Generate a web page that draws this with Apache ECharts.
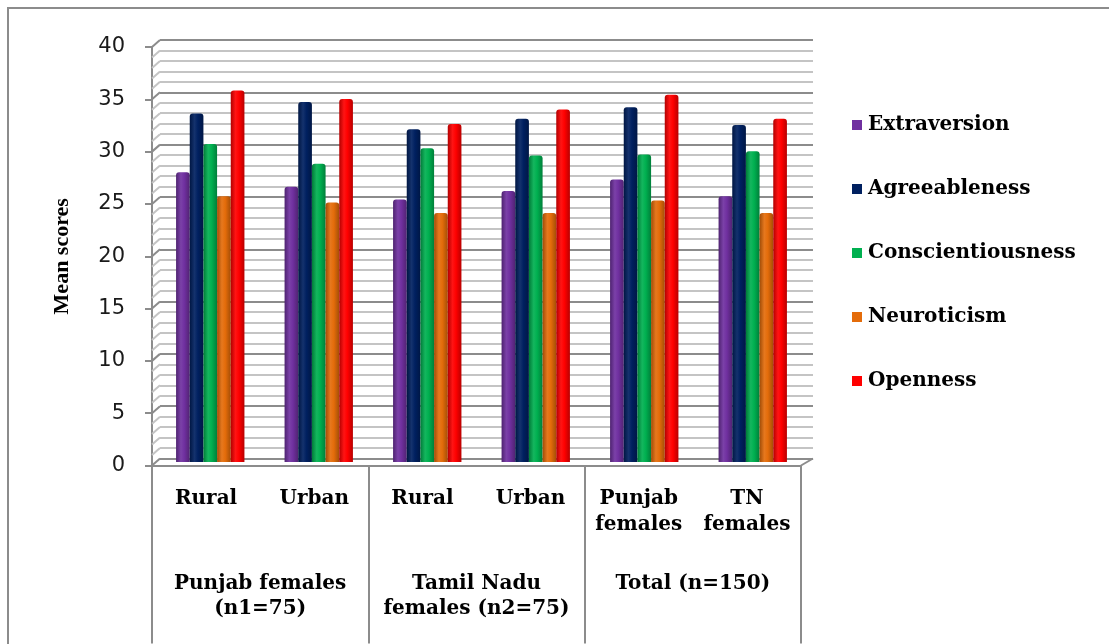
<!DOCTYPE html>
<html>
<head>
<meta charset="utf-8">
<script src="https://cdn.jsdelivr.net/npm/echarts@6/dist/echarts.min.js"></script>
<style>
  html, body { margin: 0; padding: 0; background: #ffffff; }
  #chart { width: 1109px; height: 644px; }
</style>
</head>
<body>
<div id="chart"></div>
<script>
// Sub-groups along the category axis (first label row)
const categories = ['Rural', 'Urban', 'Rural', 'Urban', 'Punjab\nfemales', 'TN\nfemales'];
// Sample groups (second label row), each spanning two sub-groups
const groups = ['Punjab females\n(n1=75)', 'Tamil Nadu\nfemales (n2=75)', 'Total (n=150)'];

// Mean scores of the Big Five personality traits
const extraversion      = [27.7, 26.3, 25.1, 25.9, 27.0, 25.4];
const agreeableness     = [33.3, 34.4, 31.8, 32.8, 33.9, 32.2];
const conscientiousness = [30.4, 28.5, 30.0, 29.3, 29.4, 29.7];
const neuroticism       = [25.4, 24.8, 23.8, 23.8, 25.0, 23.8];
const openness          = [35.5, 34.7, 32.3, 33.7, 35.1, 32.8];

const traitNames = ['Extraversion', 'Agreeableness', 'Conscientiousness', 'Neuroticism', 'Openness'];
const traitValues = [extraversion, agreeableness, conscientiousness, neuroticism, openness];
const traitColors = ['#7030A0', '#002060', '#00B050', '#E46C0A', '#FF0000'];

const yMin = 0, yMax = 40, yMajor = 5;

const GRID_LINE_MAJOR = '#8c8c8c';
const GRID_LINE_MINOR = '#c4c4c4';
const serifBold = { fontFamily: 'DejaVu Serif', fontWeight: 'bold', fontSize: 20, color: '#000' };

// Shade a hex colour by a factor (<1 darker, >1 lighter)
function shade(hex, f) {
  const n = parseInt(hex.slice(1), 16);
  const ch = [(n >> 16) & 255, (n >> 8) & 255, n & 255].map(c => {
    const v = f < 1 ? c * f : c + (255 - c) * (f - 1);
    return Math.max(0, Math.min(255, Math.round(v)));
  });
  return 'rgb(' + ch.join(',') + ')';
}

// Horizontal gradient giving the bars a cylindrical look
function cylinder(hex) {
  return {
    type: 'linear', x: 0, y: 0, x2: 1, y2: 0,
    colorStops: [
      { offset: 0, color: shade(hex, 0.7) },
      { offset: 0.35, color: shade(hex, 1.08) },
      { offset: 0.6, color: hex },
      { offset: 1, color: shade(hex, 0.72) }
    ]
  };
}

// Wall tick values (every whole unit) for the slanted side wall lines
const wallTicks = [];
for (let v = yMin; v <= yMax; v++) wallTicks.push([0, v]);

const minorColors = [];
for (let i = 0; i < yMajor; i++) minorColors.push(i === 0 ? GRID_LINE_MAJOR : GRID_LINE_MINOR);

const barSeries = traitNames.map((name, i) => ({
  name: name,
  type: 'bar',
  xAxisIndex: 3,
  yAxisIndex: 2,
  data: traitValues[i],
  barGap: '0%',
  barCategoryGap: '37%',
  itemStyle: { color: cylinder(traitColors[i]), borderRadius: [3, 3, 0, 0] },
  z: 5
}));

const chart = echarts.init(document.getElementById('chart'));
chart.setOption({
  backgroundColor: '#ffffff',
  animation: false,
  graphic: [{
    type: 'rect',
    shape: { x: 8, y: 8, width: 1120, height: 660 },
    style: { fill: 'none', stroke: '#8c8c8c', lineWidth: 2 },
    silent: true
  }],
  legend: {
    orient: 'vertical',
    left: 847,
    top: 110,
    itemGap: 44,
    itemWidth: 10,
    itemHeight: 10,
    icon: 'rect',
    textStyle: Object.assign({}, serifBold, { lineHeight: 20, padding: [0, 0, 0, 1] }),
    data: traitNames.map((n, i) => ({ name: n, itemStyle: { color: traitColors[i] } }))
  },
  grid: [
    // back wall
    { left: 160, top: 40, right: 296, bottom: 185.5 },
    // front frame with the axes
    { left: 152, top: 47, right: 308, bottom: 178.5 },
    // bars, placed midway in depth
    { left: 156, top: 43.5, right: 302, bottom: 182 }
  ],
  xAxis: [
    { gridIndex: 0, type: 'category', data: categories, show: false },
    {
      gridIndex: 1, type: 'category', data: categories, position: 'bottom',
      axisLine: { show: true, lineStyle: { color: GRID_LINE_MAJOR, width: 2 } },
      axisTick: { show: false },
      axisLabel: Object.assign({ interval: 0, margin: 20.5, lineHeight: 26 }, serifBold)
    },
    {
      gridIndex: 1, type: 'category', data: groups, position: 'bottom', offset: 0,
      axisLine: { show: false },
      axisTick: { show: true, interval: 0, length: 178, lineStyle: { color: GRID_LINE_MAJOR, width: 2 } },
      axisLabel: Object.assign({ interval: 0, margin: 105.5, lineHeight: 25 }, serifBold)
    },
    { gridIndex: 2, type: 'category', data: categories, show: false }
  ],
  yAxis: [
    {
      gridIndex: 0, type: 'value', min: yMin, max: yMax, interval: 1,
      axisLine: { show: false }, axisTick: { show: false }, axisLabel: { show: false },
      splitLine: { show: true, lineStyle: { color: minorColors, width: 2 } }
    },
    {
      gridIndex: 1, type: 'value', min: yMin, max: yMax, interval: yMajor,
      name: 'Mean scores', nameLocation: 'middle', nameGap: 79,
      nameTextStyle: { fontFamily: 'Liberation Serif', fontWeight: 'bold', fontSize: 22, color: '#000' },
      axisLine: { show: true, lineStyle: { color: GRID_LINE_MAJOR, width: 2 } },
      axisTick: { show: true, length: 7, lineStyle: { color: GRID_LINE_MAJOR, width: 2 } },
      axisLabel: { margin: 27, fontFamily: 'DejaVu Sans', fontSize: 21, color: '#1a1a1a' },
      splitLine: { show: false }
    },
    { gridIndex: 2, type: 'value', min: yMin, max: yMax, show: false, splitLine: { show: false } }
  ],
  series: [
    {
      // slanted side-wall lines joining the front axis to the back wall
      type: 'custom',
      xAxisIndex: 1,
      yAxisIndex: 1,
      data: wallTicks,
      silent: true,
      clip: false,
      z: 1,
      renderItem: function (params, api) {
        const v = api.value(1);
        const y = api.coord([0, v])[1];
        const cs = params.coordSys;
        const stroke = v % yMajor === 0 ? GRID_LINE_MAJOR : GRID_LINE_MINOR;
        const children = [{
          type: 'line',
          shape: { x1: cs.x, y1: y, x2: cs.x + 8, y2: y - 7 },
          style: { stroke: stroke, lineWidth: 2 }
        }];
        if (v === yMin) {
          children.push({
            type: 'line',
            shape: { x1: cs.x + cs.width, y1: y, x2: cs.x + cs.width + 12, y2: y - 7 },
            style: { stroke: GRID_LINE_MAJOR, lineWidth: 2 }
          });
        }
        return { type: 'group', children: children };
      }
    }
  ].concat(barSeries)
});
</script>
</body>
</html>
